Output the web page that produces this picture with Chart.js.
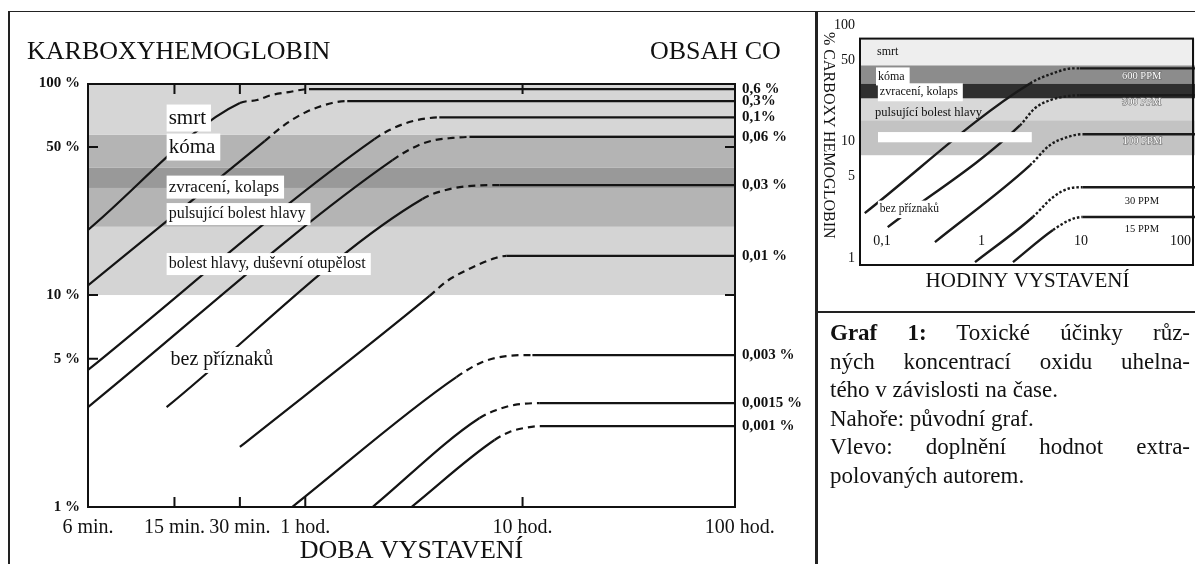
<!DOCTYPE html>
<html lang="cs">
<head>
<meta charset="utf-8">
<title>Karboxyhemoglobin</title>
<script src="https://cdn.jsdelivr.net/npm/chart.js@4.4.1/dist/chart.umd.min.js"></script>
<style>
  html, body { margin: 0; padding: 0; background: #fff; }
  body { position: relative; width: 1195px; height: 564px; overflow: hidden;
         font-family: "Liberation Serif", "Times New Roman", serif; color: #111; }
  #mainBox { position: absolute; left: 0; top: 0; width: 817px; height: 564px; }
  #insetBox { position: absolute; left: 817px; top: 12px; width: 378px; height: 300px; }
  .rule { position: absolute; background: #222; }
  .title { position: absolute; top: 38px; font-size: 26px; line-height: 26px; white-space: nowrap; }
  #ytitle { position: absolute; left: 821px; top: 25px; height: 220px; line-height: 16px;
            font-size: 16px; writing-mode: vertical-rl; text-align: center; white-space: nowrap; }
  #caption { position: absolute; left: 830px; top: 319px; width: 360px; font-size: 23px; line-height: 28.6px; }
  #caption div { white-space: nowrap; }
  #caption .j { text-align: justify; text-align-last: justify; white-space: normal; }
</style>
</head>
<body>
<div id="mainBox"><canvas id="mainChart"></canvas></div>
<div id="insetBox"><canvas id="insetChart"></canvas></div>

<div class="rule" style="left:8px;top:11px;width:1187px;height:1px"></div>
<div class="rule" style="left:8px;top:11px;width:2px;height:553px"></div>
<div class="rule" style="left:815px;top:11px;width:3px;height:553px"></div>
<div class="rule" style="left:815px;top:311px;width:380px;height:2px"></div>

<div class="title" style="left:27px">KARBOXYHEMOGLOBIN</div>
<div class="title" style="left:650px">OBSAH CO</div>
<div id="ytitle">% CARBOXY HEMOGLOBIN</div>

<div id="caption">
  <div class="j"><b>Graf 1:</b> Toxické účinky růz-</div>
  <div class="j">ných koncentrací oxidu uhelna-</div>
  <div>tého v závislosti na čase.</div>
  <div>Nahoře: původní graf.</div>
  <div class="j">Vlevo: doplnění hodnot extra-</div>
  <div>polovaných autorem.</div>
</div>

<script>
// hlavní graf: doba [hod] a % COHb
const timeTicks = [0.1, 0.25, 0.5, 1, 10, 100];
const timeLabels = ['6 min.', '15 min.', '30 min.', '1 hod.', '10 hod.', '100 hod.'];
const hbTicks = [1, 5, 10, 50, 100];
const concLabels = ['0,6 %', '0,3%', '0,1%', '0,06 %', '0,03 %', '0,01 %', '0,003 %', '0,0015 %', '0,001 %'];

// křivky: [hodiny, % COHb]
const co06 = [[0.1, 20.3], [0.5, 80.5], [0.6, 83.2], [0.7, 87.8], [0.84, 90.7], [1.04, 93.7], [95, 93.7]];
const co03 = [[0.1, 11.1], [0.65, 53.2], [0.8, 63.4], [1.01, 73], [1.33, 80.5], [1.56, 82.2], [95, 82.2]];
const co01 = [[0.1, 4.43], [2.08, 54.4], [2.44, 60], [3.01, 65.5], [3.73, 68.4], [4.14, 68.9], [95, 68.9]];
const co006 = [[0.1, 2.96], [2.52, 43.3], [3.25, 50.4], [3.93, 53.8], [4.76, 55.1], [5.7, 55.7], [95, 55.7]];
const co003 = [[0.23, 2.96], [3.46, 28.4], [4.61, 31.6], [6.34, 32.9], [7.83, 33], [95, 33]];
const co001 = [[0.5, 1.92], [3.73, 9.9], [4.47, 11.6], [5.52, 13.1], [7.27, 14.8], [8.44, 15.3], [95, 15.3]];
const co0003 = [[0.87, 1], [4.96, 4.1], [6.54, 4.83], [8.4, 5.15], [11.1, 5.21], [95, 5.21]];
const co00015 = [[2.04, 1], [6.34, 2.63], [7.59, 2.87], [9.19, 3.03], [12, 3.09], [95, 3.09]];
const co0001 = [[3.08, 1], [7.43, 2.07], [8.71, 2.26], [10.2, 2.36], [12, 2.41], [95, 2.41]];

// pásma příznaků (% COHb)
const zoneEdges = [10, 21, 32, 40, 57, 99];
const zoneNames = ['smrt', 'kóma', 'zvracení, kolaps', 'pulsující bolest hlavy',
                   'bolest hlavy, duševní otupělost', 'bez příznaků'];

// vložený graf (hodiny, %)
const insetTimeTicks = [0.1, 1, 10, 100];
const insetTimeLabels = ['0,1', '1', '10', '100'];
const insetHbTicks = [1, 5, 10, 50, 100];
const ppmLabels = ['600 PPM', '300 PPM', '100 PPM', '30 PPM', '15 PPM'];
const ppm600 = [[0.067, 2.43], [3.07, 31.7], [5.23, 38.7], [8.3, 42.7], [9.72, 42.7], [140, 42.7]];
const ppm300 = [[0.114, 1.84], [2.43, 13.8], [3.44, 19.4], [4.86, 22.7], [7.2, 24.6], [9.72, 25.1], [140, 25.1]];
const ppm100 = [[0.34, 1.37], [3.07, 6.26], [4.86, 9.33], [7.2, 10.9], [10.4, 11.6], [140, 11.6]];
const ppm30 = [[0.86, 0.92], [3.28, 2.25], [5.23, 3.33], [7.73, 3.98], [10.4, 4.06], [140, 4.06]];
const ppm15 = [[2.07, 0.92], [5.23, 1.74], [7.73, 2.12], [10.4, 2.25], [140, 2.25]];
const insetEdges = [7.65, 15.3, 23.6, 31.7, 45.4, 77];
const insetZoneNames = ['smrt', 'kóma', 'zvracení, kolaps', 'pulsující bolest hlavy', 'bez příznaků'];

const mainCurves = [co06, co03, co01, co006, co003, co001, co0003, co00015, co0001];
const insetCurves = [ppm600, ppm300, ppm100, ppm30, ppm15];

Chart.defaults.font.family = '"Liberation Serif", "Times New Roman", serif';
Chart.defaults.color = '#111';

const toXY = arr => arr.map(([x, y]) => ({ x, y }));
// přechod mezi šikmou a vodorovnou částí je čárkovaný
const dashMiddle = (n, dash) => ({
  borderDash: c => (c.p0DataIndex >= 1 && c.p1DataIndex <= n - 2) ? dash : undefined
});
const serif = (size, bold) => (bold ? 'bold ' : '') + size + 'px "Liberation Serif", serif';
const noSidePad = s => { s.paddingLeft = 0; s.paddingRight = 0; };

function boxedText(ctx, text, px, py, size, boxed, color) {
  ctx.font = serif(size);
  const w = ctx.measureText(text).width;
  if (boxed) {
    ctx.fillStyle = '#fff';
    ctx.fillRect(px - 2, py - size / 2 - 3, w + 7, size + 6);
  }
  ctx.textBaseline = 'middle';
  ctx.fillStyle = color || '#111';
  ctx.fillText(text, px, py);
}

const mainDecor = {
  id: 'mainDecor',
  beforeDatasetsDraw(chart) {
    const { ctx, chartArea: a, scales: { y } } = chart;
    const shades = ['#d4d4d4', '#b4b4b4', '#999999', '#b4b4b4', '#d6d6d6'];
    ctx.save();
    for (let i = 0; i < zoneEdges.length - 1; i++) {
      const top = y.getPixelForValue(zoneEdges[i + 1]);
      const bot = y.getPixelForValue(zoneEdges[i]);
      ctx.fillStyle = shades[i];
      ctx.fillRect(a.left, top, a.right - a.left, bot - top);
    }
    ctx.restore();
  },
  afterDatasetsDraw(chart) {
    const { ctx, chartArea: a, scales: { x, y } } = chart;
    // [hod, %, velikost písma]
    const at = [[0.235, 68.4, 21], [0.235, 49.9, 21], [0.235, 32.3, 17], [0.235, 24.1, 16],
                [0.235, 14, 16], [0.24, 4.94, 20]];
    ctx.save();
    zoneNames.forEach((name, i) => {
      const [h, p, s] = at[i];
      boxedText(ctx, name, x.getPixelForValue(h), y.getPixelForValue(p), s, true);
    });
    ctx.strokeStyle = '#111';
    ctx.lineWidth = 2;
    ctx.strokeRect(a.left, a.top, a.right - a.left, a.bottom - a.top);
    ctx.beginPath();
    [0.25, 0.5, 1, 10].forEach(v => {
      const p = x.getPixelForValue(v);
      ctx.moveTo(p, a.bottom); ctx.lineTo(p, a.bottom - 10);
      ctx.moveTo(p, a.top); ctx.lineTo(p, a.top + 10);
    });
    [5, 10, 50].forEach(v => {
      const p = y.getPixelForValue(v);
      ctx.moveTo(a.left, p); ctx.lineTo(a.left + 10, p);
    });
    [10, 50].forEach(v => {
      const p = y.getPixelForValue(v);
      ctx.moveTo(a.right, p); ctx.lineTo(a.right - 10, p);
    });
    ctx.stroke();
    ctx.restore();
  }
};

const insetDecor = {
  id: 'insetDecor',
  beforeDatasetsDraw(chart) {
    const { ctx, chartArea: a, scales: { y } } = chart;
    const shades = ['#c3c3c3', '#d8d8d8', '#2f2f2f', '#8c8c8c', '#eeeeee'];
    ctx.save();
    for (let i = 0; i < insetEdges.length - 1; i++) {
      const top = y.getPixelForValue(insetEdges[i + 1]);
      const bot = y.getPixelForValue(insetEdges[i]);
      ctx.fillStyle = shades[i];
      ctx.fillRect(a.left, top, a.right - a.left, bot - top);
    }
    ctx.restore();
  },
  afterDatasetsDraw(chart) {
    const { ctx, chartArea: a, scales: { x, y } } = chart;
    ctx.save();
    // vymazaný popisek
    const bx0 = x.getPixelForValue(0.091), bx1 = x.getPixelForValue(3.2);
    const by0 = y.getPixelForValue(12.1), by1 = y.getPixelForValue(9.88);
    ctx.fillStyle = '#fff';
    ctx.fillRect(bx0, by0, bx1 - bx0, by1 - by0);
    // [hod, %, písmo, rámeček]
    const at = [[0.089, 59.8, 12, false], [0.091, 36.4, 12, true], [0.095, 26.6, 12, true],
                [0.085, 17.9, 12.5, false], [0.095, 2.62, 11.5, true]];
    insetZoneNames.forEach((name, i) => {
      const [h, p, s, b] = at[i];
      boxedText(ctx, name, x.getPixelForValue(h), y.getPixelForValue(p), s, b);
    });
    const ppmAt = [[25.8, 36.8], [25.8, 22], [26.3, 10], [27.6, 3.08], [27.6, 1.78]];
    ppmLabels.forEach((name, i) => {
      const px = x.getPixelForValue(ppmAt[i][0]), py = y.getPixelForValue(ppmAt[i][1]);
      ctx.font = serif(10.5);
      ctx.textBaseline = 'middle';
      if (i < 3) {
        ctx.strokeStyle = '#666';
        ctx.lineWidth = 1;
        ctx.strokeText(name, px, py);
        ctx.fillStyle = '#fff';
      } else {
        ctx.fillStyle = '#111';
      }
      ctx.fillText(name, px, py);
    });
    const top = y.getPixelForValue(insetEdges[insetEdges.length - 1]);
    ctx.strokeStyle = '#111';
    ctx.lineWidth = 2;
    ctx.strokeRect(a.left, top, a.right - 2 - a.left, a.bottom - top);
    ctx.restore();
  }
};

new Chart(document.getElementById('mainChart'), {
  type: 'line',
  data: {
    datasets: mainCurves.map(c => ({
      data: toXY(c),
      borderColor: '#141414',
      borderWidth: 2.2,
      pointRadius: 0,
      fill: false,
      cubicInterpolationMode: 'monotone',
      segment: dashMiddle(c.length, [7, 5])
    }))
  },
  options: {
    responsive: true,
    maintainAspectRatio: false,
    animation: false,
    events: [],
    layout: { padding: { top: 84, left: 0, right: 0, bottom: 0 } },
    plugins: { legend: { display: false }, tooltip: { enabled: false } },
    scales: {
      x: {
        type: 'logarithmic', min: 0.1, max: 95,
        grid: { display: false, drawTicks: false }, border: { display: false },
        afterBuildTicks: s => { s.ticks = timeTicks.map(v => ({ value: v })); },
        afterFit: s => { s.height = 57; noSidePad(s); },
        ticks: { autoSkip: false, maxRotation: 0, padding: 9, font: { size: 20 },
                 callback: (v, i) => timeLabels[i] },
        title: { display: true, text: 'DOBA VYSTAVENÍ', font: { size: 26, lineHeight: 1 }, padding: 0 }
      },
      y: {
        type: 'logarithmic', position: 'left', min: 1, max: 99,
        grid: { display: false, drawTicks: false }, border: { display: false },
        afterBuildTicks: s => { s.ticks = hbTicks.map(v => ({ value: v })); },
        afterFit: s => { s.width = 88; },
        ticks: { autoSkip: false, padding: 8, font: { size: 15, weight: 'bold' },
                 callback: v => v + ' %' }
      },
      yr: {
        type: 'logarithmic', position: 'right', min: 1, max: 99,
        grid: { display: false, drawTicks: false }, border: { display: false },
        afterBuildTicks: s => { s.ticks = mainCurves.map(c => ({ value: c[c.length - 1][1] })); },
        afterFit: s => { s.width = 82; },
        ticks: { autoSkip: false, padding: 7, font: { size: 15, weight: 'bold' },
                 callback: (v, i) => concLabels[i] }
      }
    }
  },
  plugins: [mainDecor]
});

new Chart(document.getElementById('insetChart'), {
  type: 'line',
  data: {
    datasets: insetCurves.map(c => ({
      data: toXY(c),
      borderColor: '#1a1a1a',
      borderWidth: 2.4,
      pointRadius: 0,
      fill: false,
      cubicInterpolationMode: 'monotone',
      segment: dashMiddle(c.length, [2.5, 2])
    }))
  },
  options: {
    responsive: true,
    maintainAspectRatio: false,
    animation: false,
    events: [],
    layout: { padding: { top: 13, left: 0, right: 0, bottom: 0 } },
    plugins: { legend: { display: false }, tooltip: { enabled: false } },
    scales: {
      x: {
        type: 'logarithmic', min: 0.06, max: 140,
        grid: { display: false, drawTicks: false }, border: { display: false },
        afterBuildTicks: s => { s.ticks = insetTimeTicks.map(v => ({ value: v })); },
        afterFit: s => { s.height = 47; noSidePad(s); },
        ticks: { autoSkip: false, maxRotation: 0, mirror: true, padding: 15, font: { size: 14 },
                 callback: (v, i) => insetTimeLabels[i] },
        title: { display: true, text: 'HODINY VYSTAVENÍ', font: { size: 21, lineHeight: 1 },
                 padding: { top: 0, bottom: 20 } }
      },
      y: {
        type: 'logarithmic', min: 0.87, max: 100,
        grid: { display: false, drawTicks: false }, border: { display: false },
        afterBuildTicks: s => { s.ticks = insetHbTicks.map(v => ({ value: v })); },
        afterFit: s => { s.width = 43; },
        ticks: { autoSkip: false, padding: 5, font: { size: 14 }, callback: v => String(v) }
      }
    }
  },
  plugins: [insetDecor]
});
</script>
</body>
</html>
